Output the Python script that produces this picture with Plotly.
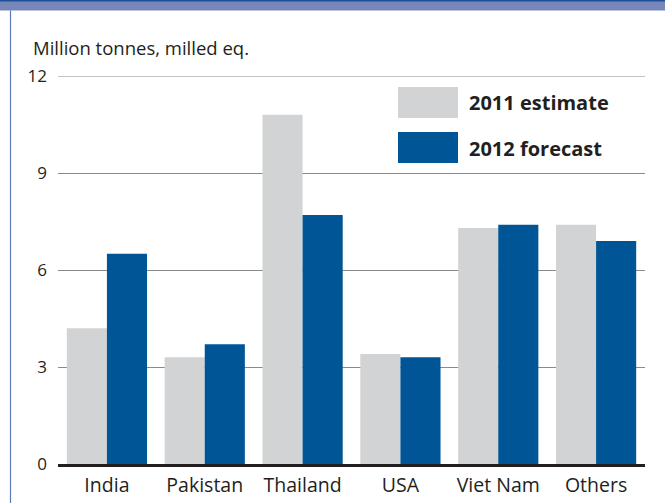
import plotly.graph_objects as go

categories = ["India", "Pakistan", "Thailand", "USA", "Viet Nam", "Others"]
est_2011 = [4.2, 3.3, 10.8, 3.4, 7.3, 7.4]
fc_2012 = [6.5, 3.7, 7.7, 3.3, 7.4, 6.9]
series_names = ["2011 estimate", "2012 forecast"]
y_ticks = [0, 3, 6, 9, 12]

GRAY = "#d1d3d4"
BLUE = "#005596"
TXT = "#231f20"
GRID = "#8a8a8a"
FONT = "Open Sans"

fig = go.Figure()
fig.add_trace(go.Bar(x=categories, y=est_2011, name=series_names[0],
                     marker=dict(color=GRAY, line=dict(width=0))))
fig.add_trace(go.Bar(x=categories, y=fc_2012, name=series_names[1],
                     marker=dict(color=BLUE, line=dict(width=0))))

W, H = 665, 503
L, R, T, B = 58, 20, 76, 39
pw, ph = W - L - R, H - T - B

def px(x):
    return (x - L) / pw

def py(y):
    return (H - B - y) / ph

shapes = []
# top band
shapes.append(dict(type="rect", xref="paper", yref="paper", x0=px(0), x1=px(W), y0=py(10.5), y1=py(0),
                   fillcolor="#7886ba", line=dict(width=0), layer="above"))
shapes.append(dict(type="rect", xref="paper", yref="paper", x0=px(0), x1=px(W), y0=py(1.5), y1=py(0),
                   fillcolor="#1d4f96", line=dict(width=0), layer="above"))
# left border
shapes.append(dict(type="line", xref="paper", yref="paper", x0=px(10.5), x1=px(10.5), y0=py(H), y1=py(10.5),
                   line=dict(color="#5a7db5", width=1.2)))
# top gridline (at the edge of the range)
shapes.append(dict(type="line", xref="paper", yref="y", x0=0, x1=1, y0=y_ticks[-1], y1=y_ticks[-1],
                   line=dict(color=GRID, width=1.2), layer="below"))
# legend boxes
shapes.append(dict(type="rect", xref="paper", yref="paper", x0=px(398), x1=px(458), y0=py(118), y1=py(87),
                   fillcolor=GRAY, line=dict(width=0)))
shapes.append(dict(type="rect", xref="paper", yref="paper", x0=px(398), x1=px(458), y0=py(163), y1=py(132),
                   fillcolor=BLUE, line=dict(width=0)))

annotations = [
    dict(text="Million tonnes, milled eq.", xref="paper", yref="paper", x=px(31), y=py(47),
         xanchor="left", yanchor="middle", showarrow=False, font=dict(family=FONT, size=18.5, color=TXT)),
    dict(text="<b>" + series_names[0] + "</b>", xref="paper", yref="paper", x=px(467), y=py(103),
         xanchor="left", yanchor="middle", showarrow=False, font=dict(family=FONT, size=20, color=TXT)),
    dict(text="<b>" + series_names[1] + "</b>", xref="paper", yref="paper", x=px(467), y=py(148),
         xanchor="left", yanchor="middle", showarrow=False, font=dict(family=FONT, size=20, color=TXT)),
]

fig.update_layout(
    width=W, height=H,
    margin=dict(l=L, r=R, t=T, b=B, pad=0, autoexpand=False),
    paper_bgcolor="white", plot_bgcolor="white",
    barmode="group", bargap=0.18, bargroupgap=0,
    showlegend=False,
    font=dict(family=FONT, color=TXT),
    shapes=shapes, annotations=annotations,
    xaxis=dict(showgrid=False, showline=True, linecolor=TXT, linewidth=2.5, automargin=False,
               ticks="", ticklabelstandoff=2, tickfont=dict(size=19.5, family=FONT, color=TXT), zeroline=False),
    yaxis=dict(range=[0, 12], tickvals=y_ticks, showgrid=True, gridcolor=GRID, gridwidth=1.2,
               automargin=False, zeroline=False, showline=False, ticks="", ticklabelstandoff=10,
               tickfont=dict(size=17, family=FONT, color=TXT)),
)

fig.write_html("out.html", config={"displayModeBar": False},
               post_script="document.body.style.margin='0';document.body.style.overflow='hidden';")
